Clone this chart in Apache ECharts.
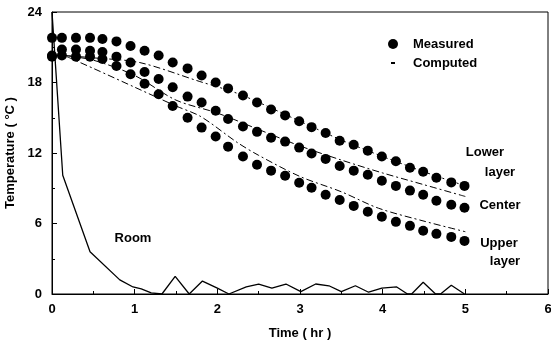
<!DOCTYPE html>
<html><head><meta charset="utf-8">
<script src="https://cdn.jsdelivr.net/npm/echarts@6/dist/echarts.min.js"></script>
<style>html,body{margin:0;padding:0;background:#fff}#c{width:551px;height:343px}</style>
</head><body><div id="c"></div>
<script>
// measured times (hr)
var measTime = [0,0.12,0.29,0.46,0.61,0.78,0.95,1.12,1.29,1.46,1.64,1.81,1.98,2.13,2.31,2.48,2.65,2.82,2.99,3.14,3.31,3.48,3.65,3.82,3.99,4.16,4.33,4.49,4.65,4.83,4.99];
var measLower  = [21.8,21.8,21.8,21.8,21.7,21.5,21.1,20.7,20.3,19.7,19.2,18.6,18.0,17.5,16.9,16.3,15.7,15.2,14.7,14.2,13.7,13.05,12.7,12.2,11.7,11.3,10.75,10.4,9.9,9.5,9.2];
var measCenter = [20.3,20.8,20.8,20.7,20.6,20.2,19.7,18.9,18.3,17.6,16.8,16.3,15.6,14.9,14.25,13.8,13.3,12.97,12.46,11.95,11.5,10.9,10.5,10.15,9.64,9.2,8.8,8.45,7.94,7.6,7.34];
var measUpper  = [20.2,20.3,20.2,20.2,20.0,19.4,18.7,17.9,17.0,16.0,15.0,14.16,13.4,12.54,11.7,11.0,10.5,10.07,9.47,9.04,8.45,8.0,7.5,7.0,6.57,6.14,5.8,5.38,5.12,4.86,4.52];
// computed curves
var compLowerT = [0.15,0.5,1.06,1.78,2.27,3.0,3.5,4.0,4.5,5.0];
var compLowerV = [20.3,20.1,19.7,18.1,17.0,14.7,13.1,11.7,10.4,9.2];
var compCenterT = [0.15,0.5,1.0,1.5,2.0,2.5,3.0,3.5,4.0,4.5,5.0];
var compCenterV = [20.3,19.9,18.6,16.5,15.4,14.0,12.6,11.4,10.3,9.3,8.3];
var compUpperT = [0.18,0.5,1.0,1.5,1.8,2.24,2.5,3.0,3.5,3.95,4.5,5.0];
var compUpperV = [20.2,19.2,17.6,16.0,15.1,12.9,11.8,10.0,8.7,7.3,6.2,5.3];
// room
var roomT = [0,0.13,0.46,0.82,0.98,1.08,1.2,1.33,1.49,1.66,1.82,2.0,2.14,2.35,2.5,2.66,2.83,3.01,3.19,3.35,3.5,3.67,3.83,3.99,4.17,4.3,4.35,4.49,4.64,4.7,4.83,4.99];
var roomV = [24,10.1,3.6,1.2,0.6,0.43,0.1,0,1.5,0,1.1,0.5,0,0.6,0.85,0.5,0.85,0.2,0.85,0.7,0.2,0.7,0.15,0.5,0.6,0,0,1.0,0,0,0.75,0];
var xTicks = [0,1,2,3,4,5,6];
var yTicks = [0,6,12,18,24];

function pairs(t,v){return t.map(function(x,i){return [x,v[i]];});}
var F = '"Liberation Sans", Arial, sans-serif';
var chart = echarts.init(document.getElementById('c'));
var dotStyle = {color:'#000',opacity:1};
function scat(v){return {type:'scatter',name:'Measured',data:pairs(measTime,v),symbol:'circle',symbolSize:10,itemStyle:dotStyle,z:3};}
function comp(t,v){return {type:'line',name:'Computed',data:pairs(t,v),showSymbol:false,smooth:0.3,lineStyle:{color:'#000',width:1,type:[7,3,2,3]},z:2};}
chart.setOption({
  animation:false,
  grid:{left:52,right:3,top:12,bottom:49,show:true,borderColor:'#000',borderWidth:1,containLabel:false,outerBoundsMode:'none'},
  xAxis:{type:'value',min:0,max:6,interval:1,
    axisLine:{lineStyle:{color:'#000',width:1}},
    axisTick:{inside:true,length:5,lineStyle:{color:'#000'}},
    minorTick:{show:true,splitNumber:2,length:3,lineStyle:{color:'#000'}},
    splitLine:{show:false},
    axisLabel:{color:'#000',fontFamily:F,fontSize:13,fontWeight:'bold',margin:9,
      formatter:function(v){return xTicks.indexOf(v)>=0?String(v):'';}},
    name:'Time ( hr )',nameLocation:'middle',nameGap:33,
    nameTextStyle:{color:'#000',fontFamily:F,fontSize:13,fontWeight:'bold'}},
  yAxis:{type:'value',min:0,max:24,interval:6,
    axisLine:{show:true,lineStyle:{color:'#000',width:1}},
    axisTick:{show:true,inside:true,length:5,lineStyle:{color:'#000'}},
    minorTick:{show:true,splitNumber:2,length:3,lineStyle:{color:'#000'}},
    splitLine:{show:false},
    axisLabel:{color:'#000',fontFamily:F,fontSize:13,fontWeight:'bold',margin:10,
      formatter:function(v){return yTicks.indexOf(v)>=0?String(v):'';}},
    name:'Temperature ( °C )',nameLocation:'middle',nameGap:31,nameRotate:90,
    nameTextStyle:{color:'#000',fontFamily:F,fontSize:13,fontWeight:'bold'}},
  series:[
    {type:'line',name:'Room',data:pairs(roomT,roomV),showSymbol:false,lineStyle:{color:'#000',width:1.3},z:2},
    comp(compLowerT,compLowerV),comp(compCenterT,compCenterV),comp(compUpperT,compUpperV),
    scat(measLower),scat(measCenter),scat(measUpper)
  ],
  graphic:[
    {type:'circle',shape:{cx:393,cy:44,r:5},style:{fill:'#000'}},
    {type:'rect',shape:{x:391,y:62,width:4,height:2},style:{fill:'#000'}},
    {type:'text',x:413,y:44,style:{text:'Measured',fill:'#000',font:'bold 13px '+F,verticalAlign:'middle'}},
    {type:'text',x:413,y:63,style:{text:'Computed',fill:'#000',font:'bold 13px '+F,verticalAlign:'middle'}},
    {type:'text',x:485,y:152,style:{text:'Lower',fill:'#000',font:'bold 13px '+F,align:'center',verticalAlign:'middle'}},
    {type:'text',x:500,y:172,style:{text:'layer',fill:'#000',font:'bold 13px '+F,align:'center',verticalAlign:'middle'}},
    {type:'text',x:500,y:205,style:{text:'Center',fill:'#000',font:'bold 13px '+F,align:'center',verticalAlign:'middle'}},
    {type:'text',x:499,y:243,style:{text:'Upper',fill:'#000',font:'bold 13px '+F,align:'center',verticalAlign:'middle'}},
    {type:'text',x:505,y:261,style:{text:'layer',fill:'#000',font:'bold 13px '+F,align:'center',verticalAlign:'middle'}},
    {type:'text',x:133,y:238,style:{text:'Room',fill:'#000',font:'bold 13px '+F,align:'center',verticalAlign:'middle'}}
  ]
});
</script></body></html>
